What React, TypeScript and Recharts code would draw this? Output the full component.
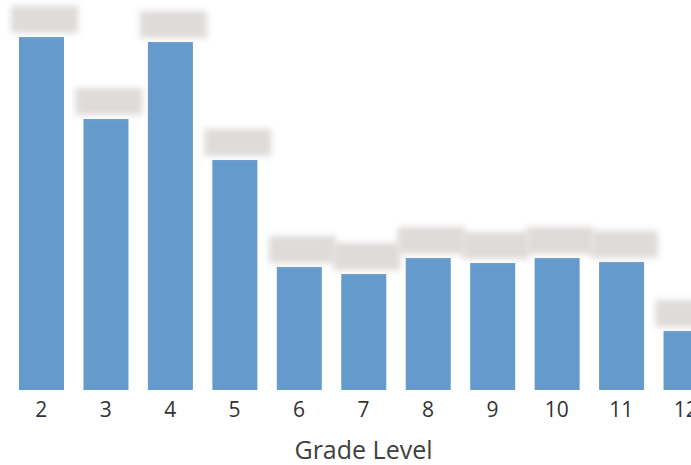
import React from 'react'
import { Bar, BarChart, XAxis, YAxis, LabelList, Label } from 'recharts'

const grades = ['2', '3', '4', '5', '6', '7', '8', '9', '10', '11', '12']
const students = [353, 271, 348, 230, 123, 116, 132, 127, 132, 128, 59]

const data = grades.map((grade, i) => ({ grade, students: students[i] }))

// data labels in the source are blurred out, so draw a soft grey patch instead
function BlurredLabel(props: any) {
    const { x, y, width } = props
    return (
        <rect
            x={x - 8}
            y={y - 31}
            width={width + 22}
            height={27}
            fill="#dedbd9"
            style={{ filter: 'blur(3px)' }}
        />
    )
}

function App() {
    return (
        <div style={{ position: 'absolute', left: 0, top: 0, width: 691, height: 465, overflow: 'hidden', background: '#fff' }}>
            <BarChart
                width={718}
                height={465}
                data={data}
                margin={{ top: 30, right: 0, left: 9, bottom: 0 }}
            >
                <XAxis
                    dataKey="grade"
                    height={75}
                    axisLine={false}
                    tickLine={false}
                    tickSize={0}
                    tickMargin={12}
                    interval={0}
                    tick={{ fill: '#333333', fontSize: 21, fontFamily: 'Open Sans' }}
                >
                    <Label
                        value="Grade Level"
                        position="insideBottom"
                        offset={6}
                        fill="#404040"
                        fontSize={25}
                        fontFamily="Open Sans"
                    />
                </XAxis>
                <YAxis hide domain={[0, 360]} />
                <Bar dataKey="students" fill="#659bcc" barSize={45} isAnimationActive={false}>
                    <LabelList dataKey="students" content={<BlurredLabel />} />
                </Bar>
            </BarChart>
        </div>
    )
}

export default App
